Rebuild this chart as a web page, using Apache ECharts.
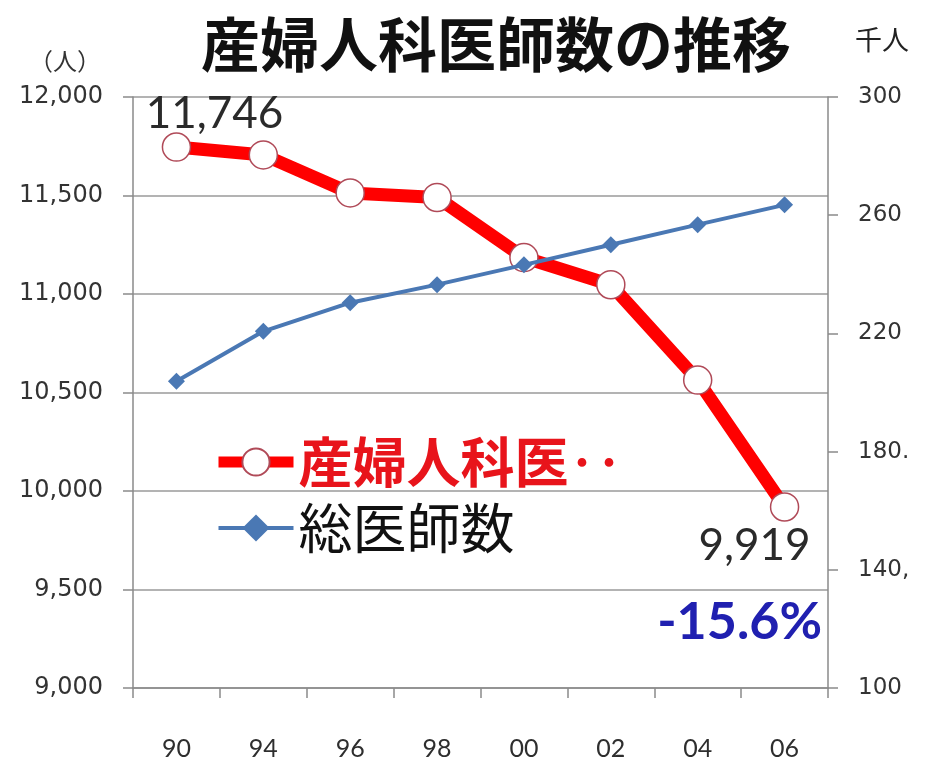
<!DOCTYPE html>
<html>
<head>
<meta charset="utf-8">
<script src="https://cdn.jsdelivr.net/npm/echarts@6/dist/echarts.min.js"></script>
<style>
  html, body { margin: 0; padding: 0; background: #ffffff; }
  #chart { width: 925px; height: 761px; }
</style>
</head>
<body>
<div id="chart"></div>
<script>
// Survey years (two-digit)
const years = ['90', '94', '96', '98', '00', '02', '04', '06'];
// Obstetrics & gynecology doctors (persons, left axis)
const obgynDoctors = [11746, 11706, 11513, 11490, 11185, 11047, 10563, 9919];
// All doctors (thousand persons, right axis)
const allDoctors = [203.8, 220.7, 230.4, 236.5, 243.2, 250.0, 256.8, 263.5];
// Right-axis tick label texts
const rightTickLabels = { 100: '100', 140: '140,', 180: '180.', 220: '220', 260: '260', 300: '300' };

const obgynName = '産婦人科医師数';
const allName = '総医師数';

const first = obgynDoctors[0];
const last = obgynDoctors[obgynDoctors.length - 1];
const changePct = ((last - first) / first * 100).toFixed(1) + '%';

const numFont = "'Liberation Sans Narrow', Lato, sans-serif";
const cjkFont = "'Noto Sans CJK JP', sans-serif";

const obgynData = obgynDoctors.map((v, i) => {
  const item = { value: v };
  if (i === 0) {
    item.label = { show: true, position: 'top', distance: 0, offset: [38, 4] };
  } else if (i === obgynDoctors.length - 1) {
    item.label = { show: true, position: 'bottom', distance: 2, offset: [-30, 0] };
  }
  return item;
});

const chart = echarts.init(document.getElementById('chart'), null, { renderer: 'canvas' });

chart.setOption({
  backgroundColor: '#ffffff',
  animation: false,
  title: {
    text: '産婦人科医師数の推移',
    left: 196,
    top: 10,
    textStyle: { fontFamily: cjkFont, fontSize: 59, fontWeight: 'bold', color: '#111111' }
  },
  grid: { left: 133, right: 97, top: 97, bottom: 72 },
  legend: {
    orient: 'vertical',
    left: 208,
    top: 430,
    itemWidth: 75,
    itemHeight: 34,
    itemGap: 12,
    formatter: name => name === obgynName ? '産婦人科医‥' : name,
    textStyle: { fontFamily: cjkFont, fontSize: 54 },
    data: [
      {
        name: obgynName,
        textStyle: { color: '#e8141b', fontWeight: 'bold' },
        lineStyle: { color: '#ff0000', width: 11 }
      },
      {
        name: allName,
        textStyle: { color: '#111111' },
        lineStyle: { color: '#4a78b4', width: 4 }
      }
    ]
  },
  xAxis: {
    type: 'category',
    data: years,
    boundaryGap: true,
    axisLine: { lineStyle: { color: '#8a8a8a', width: 1.5 } },
    axisTick: { show: true, length: 10, lineStyle: { color: '#8a8a8a', width: 1.5 } },
    axisLabel: { margin: 48, fontFamily: numFont, fontSize: 25, color: '#2e2e2e' }
  },
  yAxis: [
    {
      type: 'value',
      min: 9000,
      max: 12000,
      interval: 500,
      name: '（人）',
      nameLocation: 'end',
      nameGap: 24,
      nameTextStyle: { fontFamily: cjkFont, fontSize: 24, color: '#333333', align: 'right', padding: [0, 32, 0, 0] },
      axisLine: { show: true, lineStyle: { color: '#8a8a8a', width: 1.5 } },
      axisTick: { show: true, inside: false, length: 10, lineStyle: { color: '#8a8a8a', width: 1.5 } },
      axisLabel: {
        margin: 30,
        fontFamily: "'DejaVu Sans', sans-serif",
        fontSize: 24,
        color: '#333333',
        formatter: v => v.toLocaleString('en-US')
      },
      splitLine: { show: true, lineStyle: { color: '#9a9a9a', width: 1.5 } }
    },
    {
      type: 'value',
      min: 100,
      max: 300,
      interval: 40,
      name: '千人',
      nameLocation: 'end',
      nameGap: 44,
      nameTextStyle: { fontFamily: cjkFont, fontSize: 27, color: '#222222', align: 'left', padding: [0, 0, 0, 27] },
      axisLine: { show: true, lineStyle: { color: '#8a8a8a', width: 1.5 } },
      axisTick: { show: true, inside: false, length: 10, lineStyle: { color: '#8a8a8a', width: 1.5 } },
      axisLabel: {
        margin: 30,
        fontFamily: "'DejaVu Sans', sans-serif",
        fontSize: 23,
        color: '#333333',
        formatter: v => rightTickLabels[v] !== undefined ? rightTickLabels[v] : String(v)
      },
      splitLine: { show: false }
    }
  ],
  series: [
    {
      name: obgynName,
      type: 'line',
      yAxisIndex: 0,
      data: obgynData,
      symbol: 'circle',
      symbolSize: 28,
      z: 2,
      lineStyle: { color: '#ff0000', width: 13, join: 'round' },
      itemStyle: { color: '#ffffff', borderColor: '#b04a58', borderWidth: 1.5 },
      label: {
        show: false,
        fontFamily: numFont,
        fontSize: 44,
        color: '#2a2a2a',
        formatter: p => p.value.toLocaleString('en-US')
      }
    },
    {
      name: allName,
      type: 'line',
      yAxisIndex: 1,
      data: allDoctors,
      symbol: 'diamond',
      symbolSize: 17,
      z: 3,
      lineStyle: { color: '#4a78b4', width: 4 },
      itemStyle: { color: '#4a78b4' }
    }
  ],
  graphic: [
    {
      type: 'text',
      right: 103,
      top: 596,
      z: 10,
      style: {
        text: changePct,
        fontFamily: "Lato, sans-serif",
        fontWeight: 'bold',
        fontSize: 52,
        fill: '#2020b0'
      }
    }
  ]
});
</script>
</body>
</html>
